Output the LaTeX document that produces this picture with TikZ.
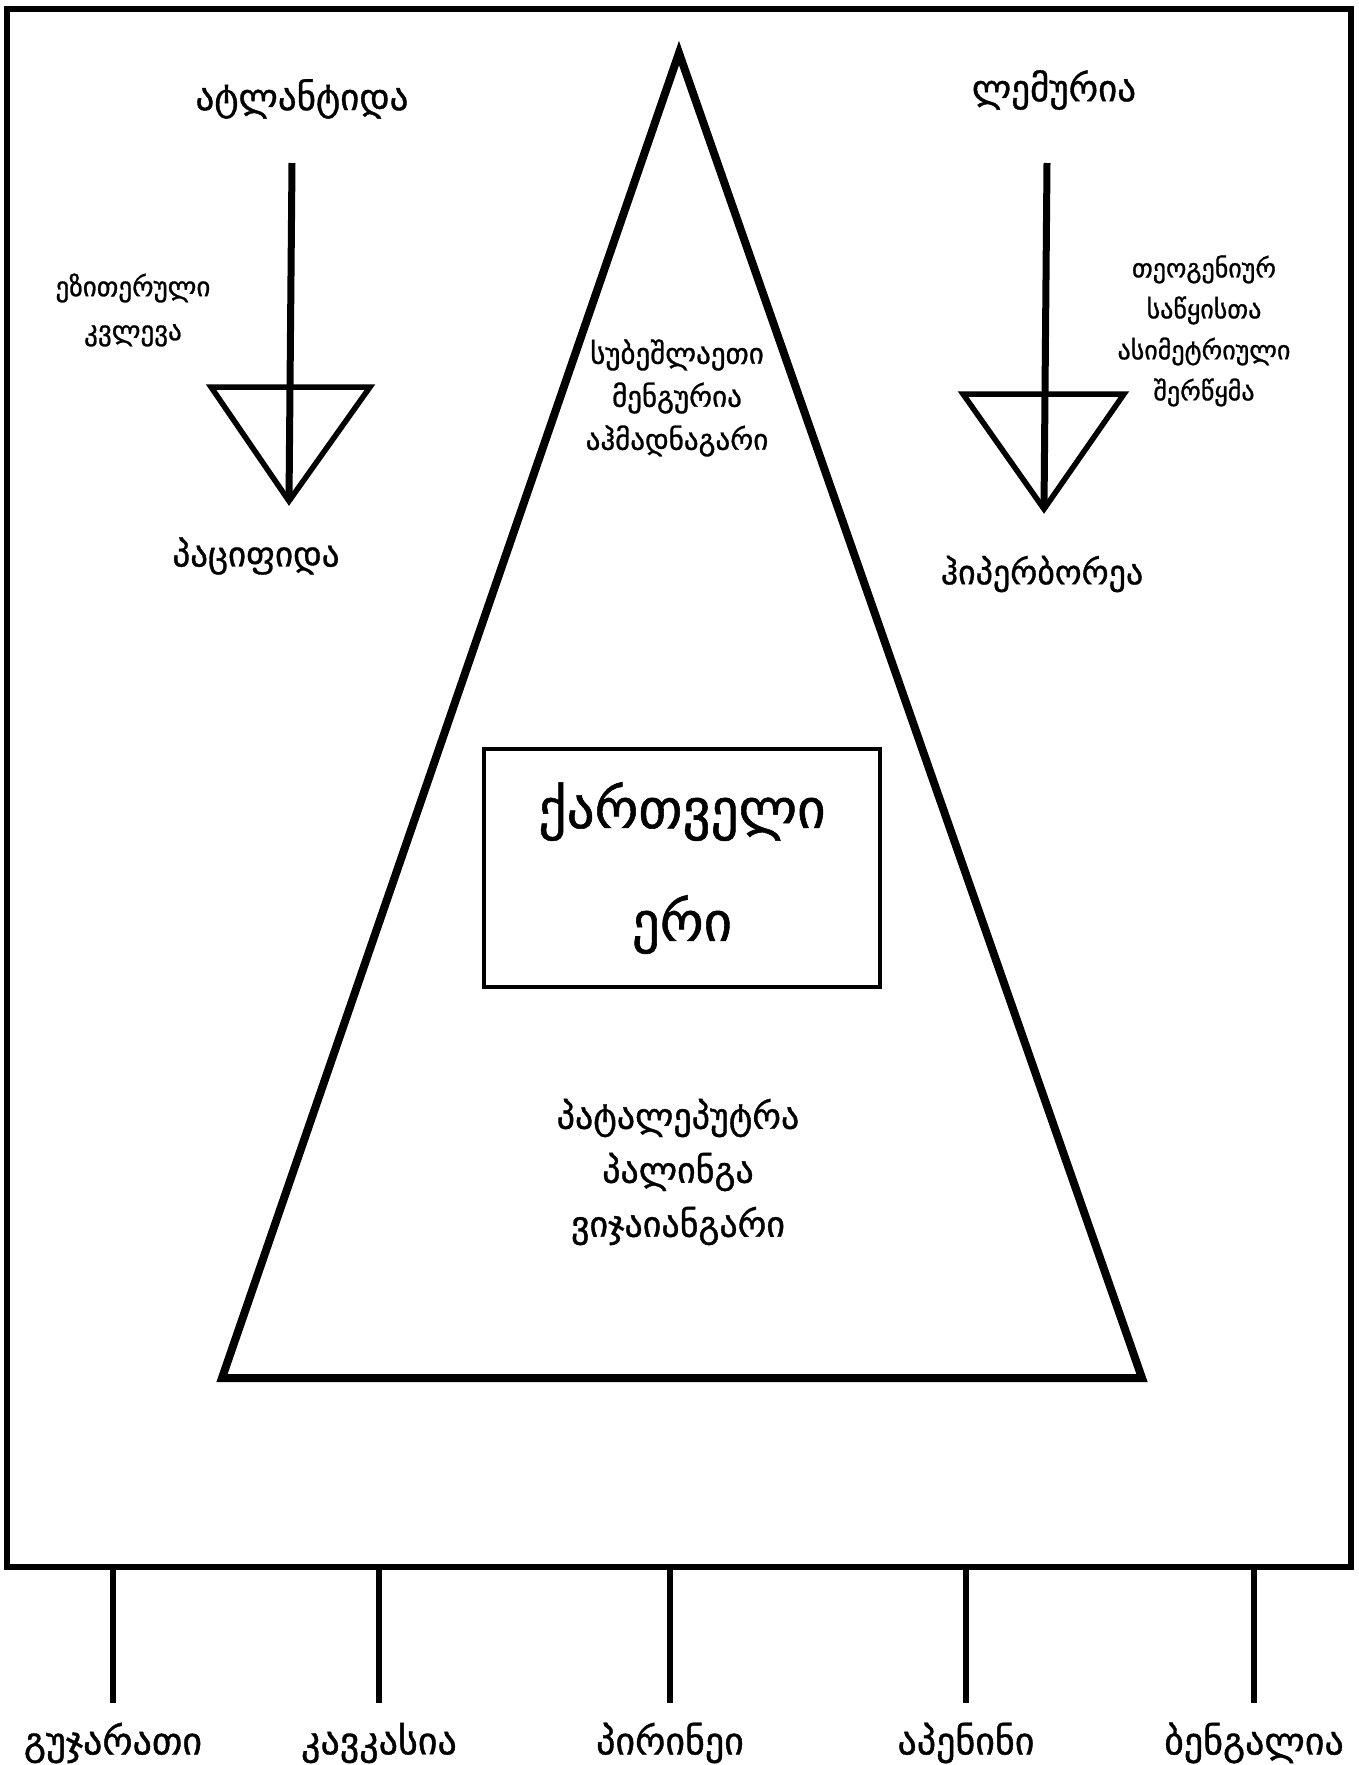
\documentclass[tikz,border=0pt]{standalone}
\usepackage{fontspec}
\newfontfamily\geo[Script=Georgian,FakeBold=1]{DejaVu Sans}
\usetikzlibrary{positioning}

\begin{document}
\begin{tikzpicture}[x=1pt,y=-1pt,
    word_node/.style={font=\geo\fontsize{37}{44}\selectfont,align=center,inner sep=0pt},
    small_node/.style={font=\geo\fontsize{27}{44}\selectfont,align=center,inner sep=0pt},
    mid_node/.style={font=\geo\fontsize{29}{43}\selectfont,align=center,inner sep=0pt}]

    \useasboundingbox (0,0) rectangle (1359,1765);

    % frame and big triangle
    \draw[line width=5.5pt] (7,9) rectangle (1351,1567);
    \draw[line width=8pt,line join=miter] (679,53) -- (222,1378) -- (1142,1378) -- cycle;

    \node[draw,line width=4.5pt,minimum width=396pt,minimum height=238pt,
          font=\geo\fontsize{55}{113}\selectfont,align=center] (box) at (682,868) {ქართველი\\ერი};

    \node[mid_node] (up) at (677,398) {სუბეშლაეთი\\მენგურია\\აჰმადნაგარი};
    \node[mid_node,font=\geo\fontsize{36}{54}\selectfont] (down) at (678,1172) {პატალეპუტრა\\პალინგა\\ვიჯაიანგარი};

    % left arrow
    \node[word_node] (atl) at (302,99) {ატლანტიდა};
    \node[word_node,font=\geo\fontsize{35}{44}\selectfont] (pac) at (256,556) {პაციფიდა};
    \node[small_node] (ezo) at (133,310) {ეზითერული\\კვლევა};
    \coordinate (a1) at (292,163);
    \coordinate (a2) at (289,501);
    \draw[line width=5.5pt,line join=miter] (211,387) -- (370,387) -- (a2) -- cycle;
    \draw[line width=7pt] (a1) -- (a2);

    % right arrow
    \node[word_node] (lem) at (1054,90) {ლემურია};
    \node[word_node,font=\geo\fontsize{34}{44}\selectfont] (hyp) at (1042,574) {ჰიპერბორეა};
    \node[small_node,font=\geo\fontsize{26}{41}\selectfont] (teo) at (1204,331) {თეოგენიურ\\საწყისთა\\ასიმეტრიული\\შერწყმა};
    \coordinate (b1) at (1047,163);
    \coordinate (b2) at (1044,509);
    \draw[line width=5.5pt,line join=miter] (963,394) -- (1124,394) -- (b2) -- cycle;
    \draw[line width=7pt] (b1) -- (b2);

    % bottom labels
    \foreach \x/\name/\txt in {113/guj/გუჯარათი,379/kav/კავკასია,670/pir/პირინეი,966/ape/აპენინი,1254/ben/ბენგალია}{
        \node[word_node,font=\geo\fontsize{38}{44}\selectfont] (\name) at (\x,1743) {\txt};
        \coordinate (\name top) at (\x,1567);
        \draw[line width=6pt] (\name top) -- (\x,1703);
    }
\end{tikzpicture}
\end{document}
